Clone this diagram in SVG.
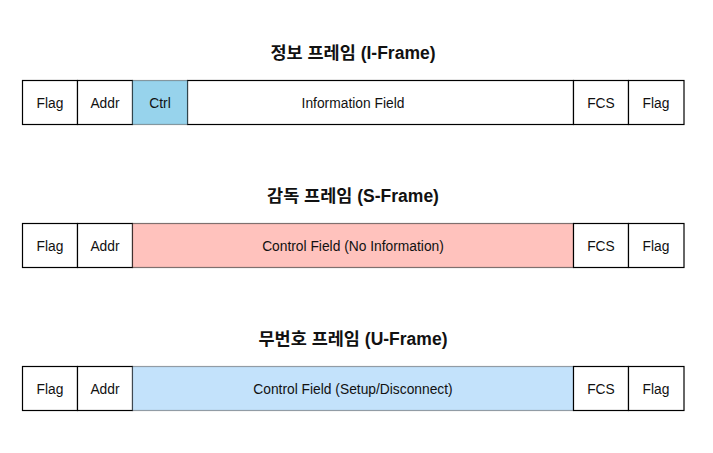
<svg xmlns="http://www.w3.org/2000/svg" width="713" height="453" viewBox="0 0 713 453">
<style>
.bg{fill:#ffffff}
.cell{fill:#ffffff;stroke:#000;stroke-width:1.2}
.ctrl{fill:#97d3ec;stroke:#000;stroke-opacity:0.35;stroke-width:1.2}
.sup{fill:#ffc2bd;stroke:#000;stroke-opacity:0.5;stroke-width:1.2}
.unn{fill:#c3e2fb;stroke:#000;stroke-opacity:0.35;stroke-width:1.2}
.t{font-family:"Liberation Sans","Noto Sans CJK KR",sans-serif;font-size:13.8px;fill:#111;text-anchor:middle;dominant-baseline:central}
.h{font-family:"Liberation Sans","Noto Sans CJK KR",sans-serif;font-size:17.5px;font-weight:bold;fill:#111;text-anchor:middle;dominant-baseline:central}
</style>
<rect class="bg" x="0" y="0" width="713" height="453"/>
<g id="iframe">
<text class="h" x="353" y="53">정보 프레임 (I-Frame)</text>
<g id="i-flag1"><rect class="cell" x="22.5" y="80.5" width="55" height="44"/><text class="t" x="50" y="103">Flag</text></g>
<g id="i-addr"><rect class="cell" x="77.5" y="80.5" width="55" height="44"/><text class="t" x="105" y="103">Addr</text></g>
<g id="i-info"><rect class="cell" x="187.5" y="80.5" width="386" height="44"/><text class="t" x="353" y="103">Information Field</text></g>
<g id="i-ctrl"><rect class="ctrl" x="132.5" y="80.5" width="55" height="44"/><text class="t" x="160" y="103">Ctrl</text></g>
<g id="i-fcs"><rect class="cell" x="573.5" y="80.5" width="55" height="44"/><text class="t" x="601" y="103">FCS</text></g>
<g id="i-flag2"><rect class="cell" x="628.5" y="80.5" width="55.5" height="44"/><text class="t" x="656" y="103">Flag</text></g>
</g>
<g id="sframe">
<text class="h" x="353" y="196">감독 프레임 (S-Frame)</text>
<g id="s-flag1"><rect class="cell" x="22.5" y="223.5" width="55" height="44"/><text class="t" x="50" y="246">Flag</text></g>
<g id="s-addr"><rect class="cell" x="77.5" y="223.5" width="55" height="44"/><text class="t" x="105" y="246">Addr</text></g>
<g id="s-ctrl"><rect class="sup" x="132.5" y="223.5" width="441" height="44"/><text class="t" x="353" y="246">Control Field (No Information)</text></g>
<g id="s-fcs"><rect class="cell" x="573.5" y="223.5" width="55" height="44"/><text class="t" x="601" y="246">FCS</text></g>
<g id="s-flag2"><rect class="cell" x="628.5" y="223.5" width="55.5" height="44"/><text class="t" x="656" y="246">Flag</text></g>
</g>
<g id="uframe">
<text class="h" x="353" y="339">무번호 프레임 (U-Frame)</text>
<g id="u-flag1"><rect class="cell" x="22.5" y="366.5" width="55" height="44"/><text class="t" x="50" y="389">Flag</text></g>
<g id="u-addr"><rect class="cell" x="77.5" y="366.5" width="55" height="44"/><text class="t" x="105" y="389">Addr</text></g>
<g id="u-ctrl"><rect class="unn" x="132.5" y="366.5" width="441" height="44"/><text class="t" x="353" y="389">Control Field (Setup/Disconnect)</text></g>
<g id="u-fcs"><rect class="cell" x="573.5" y="366.5" width="55" height="44"/><text class="t" x="601" y="389">FCS</text></g>
<g id="u-flag2"><rect class="cell" x="628.5" y="366.5" width="55.5" height="44"/><text class="t" x="656" y="389">Flag</text></g>
</g>
<g id="connectors"/>
</svg>
